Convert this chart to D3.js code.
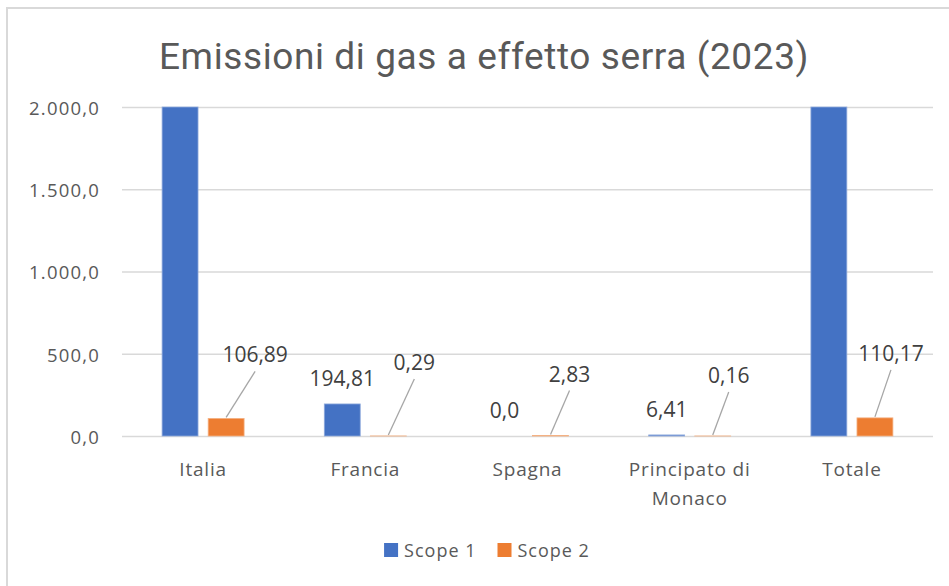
<!DOCTYPE html>
<html>
<head>
<meta charset="utf-8">
<script src="https://cdn.jsdelivr.net/npm/d3@7"></script>
<style>
  body { margin: 0; background: #fff; }
  svg { display: block; }
</style>
</head>
<body>
<svg id="chart" width="949" height="586"></svg>
<script>
// chart data
const categories = ['Italia', 'Francia', 'Spagna', 'Principato di Monaco', 'Totale'];
const seriesNames = ['Scope 1', 'Scope 2'];
// Italia and Totale scope 1 run past the top of the axis (value not shown in the picture)
const scope1 = [2350, 194.81, 0, 6.41, 2551.22];
const scope2 = [106.89, 0.29, 2.83, 0.16, 110.17];
const yTicks = [0, 500, 1000, 1500, 2000];
const yMax = 2000;

// scope 2 labels were dragged by hand, so each one has its own offset (px)
const scope2LabelShift = [[29, -56], [26, -66], [19, -54], [16, -53], [16, -57]];

const colors = { 'Scope 1': '#4472C4', 'Scope 2': '#ED7D31' };
const edgeColors = { 'Scope 1': '#8FAADC', 'Scope 2': '#F4B183' };
const textFont = "'Open Sans', sans-serif";

const svg = d3.select('#chart');
const plotLeft = 122,
  plotRight = 933,
  plotTop = 107,
  plotBottom = 436;

// italian number format
const it = d3.formatLocale({ decimal: ',', thousands: '.', grouping: [3], currency: ['€', ''] });
const tickFmt = it.format(',.1f');
// excel "0.0#"
const labelFmt = (v) => {
  let s = v.toFixed(2);
  if (s.endsWith('0')) s = s.slice(0, -1);
  return s.replace('.', ',');
};

// chart border (the picture is cropped on the right and bottom)
svg
  .append('rect')
  .attr('x', 7)
  .attr('y', 8)
  .attr('width', 1000)
  .attr('height', 700)
  .attr('fill', '#fff')
  .attr('stroke', '#D9D9D9')
  .attr('stroke-width', 2);

// title
svg
  .append('text')
  .attr('x', 484)
  .attr('y', 69)
  .attr('text-anchor', 'middle')
  .style('font-family', 'Roboto, sans-serif')
  .style('font-size', '37px')
  .style('letter-spacing', '0.6px')
  .attr('fill', '#595959')
  .text('Emissioni di gas a effetto serra (2023)');

// scales
const x0 = d3.scaleBand().domain(categories).range([plotLeft, plotRight]);
const x1 = d3.scaleBand().domain(seriesNames).range([0, 82]).paddingInner(0.22);
const groupOffset = x0.bandwidth() / 2 - 41;
const y = d3.scaleLinear().domain([0, yMax]).range([plotBottom, plotTop]).clamp(true);

// y axis with gridlines
const yAxis = svg
  .append('g')
  .attr('transform', `translate(${plotLeft},0)`)
  .call(
    d3
      .axisLeft(y)
      .tickValues(yTicks)
      .tickFormat(tickFmt)
      .tickSize(-(plotRight - plotLeft))
      .tickPadding(22)
  );
yAxis.select('.domain').remove();
yAxis.selectAll('line').attr('stroke', '#D9D9D9').attr('stroke-width', 1.4);
yAxis
  .selectAll('text')
  .attr('dy', '0.4em')
  .attr('fill', '#595959')
  .style('font-family', textFont)
  .style('font-size', '18.5px')
  .style('letter-spacing', '1.2px');

// x axis labels
const xAxis = svg
  .append('g')
  .attr('transform', 'translate(0,476)')
  .call(d3.axisBottom(x0).tickSize(0));
xAxis.select('.domain').remove();
xAxis
  .selectAll('text')
  .attr('y', 0)
  .attr('dy', 0)
  .attr('fill', '#595959')
  .style('font-family', textFont)
  .style('font-size', '19px')
  .style('letter-spacing', '0.8px')
  .call(wrap, 140);

function wrap(texts, maxWidth) {
  texts.each(function () {
    const text = d3.select(this);
    const words = text.text().split(/\s+/);
    text.text(null);
    let line = [];
    let tspan = text.append('tspan').attr('x', 0).attr('dy', 0);
    words.forEach((w) => {
      line.push(w);
      tspan.text(line.join(' '));
      if (tspan.node().getComputedTextLength() > maxWidth && line.length > 1) {
        line.pop();
        tspan.text(line.join(' '));
        line = [w];
        tspan = text.append('tspan').attr('x', 0).attr('dy', 29).text(w);
      }
    });
  });
}

// bars
const rows = categories.map((c, i) => ({
  category: c,
  i: i,
  values: [
    { series: 'Scope 1', value: scope1[i] },
    { series: 'Scope 2', value: scope2[i] },
  ],
}));

const groups = svg
  .selectAll('g.group')
  .data(rows)
  .enter()
  .append('g')
  .attr('class', 'group')
  .attr('transform', (d) => `translate(${x0(d.category) + groupOffset},0)`);

groups
  .selectAll('rect')
  .data((d) => d.values.filter((v) => v.value > 0))
  .enter()
  .append('rect')
  .attr('x', (d) => x1(d.series))
  .attr('y', (d) => y(d.value))
  .attr('width', x1.bandwidth())
  .attr('height', (d) => y(0) - y(d.value))
  .attr('fill', (d) => colors[d.series])
  .attr('stroke', (d) => edgeColors[d.series])
  .attr('stroke-width', 0.8);

const labelStyle = (sel) =>
  sel
    .attr('text-anchor', 'middle')
    .attr('fill', '#404040')
    .style('font-family', textFont)
    .style('font-size', '21px');

// scope 1 labels, above the bar (hidden when the bar runs past the axis)
groups
  .filter((d) => d.values[0].value <= yMax)
  .append('text')
  .attr('x', x1('Scope 1') + x1.bandwidth() / 2)
  .attr('y', (d) => y(d.values[0].value) - 18)
  .call(labelStyle)
  .text((d) => labelFmt(d.values[0].value));

// scope 2 labels with leader lines
groups.each(function (d) {
  const g = d3.select(this);
  const v = d.values[1].value;
  const bx = x1('Scope 2') + x1.bandwidth() / 2;
  const by = y(v);
  const [dx, dy] = scope2LabelShift[d.i];
  g.append('line')
    .attr('x1', bx + dx)
    .attr('y1', by + dy + 9)
    .attr('x2', bx)
    .attr('y2', by - 1)
    .attr('stroke', '#A6A6A6')
    .attr('stroke-width', 1.3);
  g.append('text')
    .attr('x', bx + dx)
    .attr('y', by + dy)
    .call(labelStyle)
    .text(labelFmt(v));
});

// legend
const legend = svg.append('g').attr('class', 'legend');
let lx = 0;
seriesNames.forEach((s) => {
  const item = legend.append('g').attr('transform', `translate(${lx},0)`);
  item
    .append('rect')
    .attr('x', 0)
    .attr('y', 543)
    .attr('width', 14)
    .attr('height', 14)
    .attr('fill', colors[s]);
  const t = item
    .append('text')
    .attr('x', 20)
    .attr('y', 557)
    .attr('fill', '#595959')
    .style('font-family', textFont)
    .style('font-size', '18px')
    .style('letter-spacing', '1px')
    .text(s);
  lx += 20 + t.node().getComputedTextLength() + 21;
});
const legendWidth = lx - 21;
legend.attr('transform', `translate(${487 - legendWidth / 2},0)`);
</script>
</body>
</html>
